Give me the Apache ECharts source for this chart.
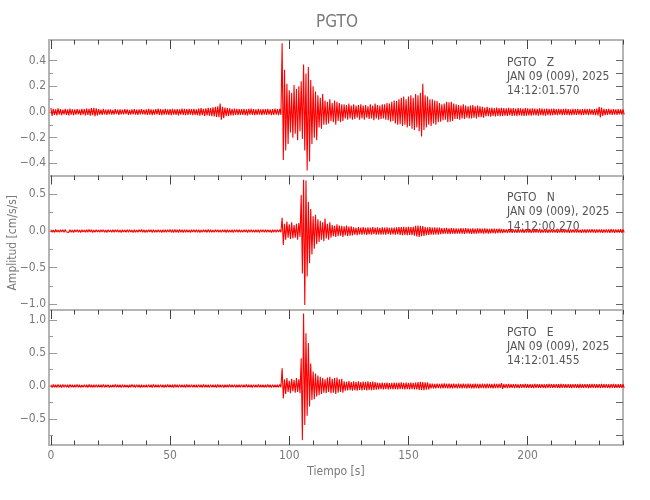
<!DOCTYPE html>
<html>
<head>
<meta charset="utf-8">
<script src="https://cdn.jsdelivr.net/npm/echarts@6/dist/echarts.min.js"></script>
<style>html,body{margin:0;padding:0;background:#fff}#c{width:650px;height:500px}</style>
</head>
<body>
<div id="c"></div>
<script>
// ---------- DATA ----------
const stationTitle = 'PGTO';
const xTitle = 'Tiempo [s]';
const yTitle = 'Amplitud [cm/s/s]';
const timeStart = 0;     // s
const timeStep = 1;      // s between envelope readings
const xLabelValues = [0, 50, 100, 150, 200];
const xMinorValues = [10,20,30,40,60,70,80,90,110,120,130,140,160,170,180,190,210,220,230,240];

const labelsZ = ['PGTO   Z', 'JAN 09 (009), 2025', '14:12:01.570'];
const labelsN = ['PGTO   N', 'JAN 09 (009), 2025', '14:12:00.270'];
const labelsE = ['PGTO   E', 'JAN 09 (009), 2025', '14:12:01.455'];

const yMajorZ = [-0.4, -0.2, 0.0, 0.2, 0.4];
const yMinorZ = [-0.3, -0.1, 0.1, 0.3];
const yMajorN = [-1.0, -0.5, 0.0, 0.5];
const yMinorN = [-0.75, -0.25, 0.25];
const yMajorE = [-0.5, 0.0, 0.5, 1.0];
const yMinorE = [-0.75, -0.25, 0.25, 0.75];

const yRangeZ = [-0.495, 0.561];
const yRangeN = [-1.077, 0.757];
const yRangeE = [-0.894, 1.152];

// Z component: positive / negative peaks per second
const zUp = [
0.030,0.025,0.020,0.028,0.022,0.018,0.024,0.020,0.026,0.021,
0.020,0.023,0.019,0.025,0.022,0.027,0.024,0.030,0.033,0.028,
0.022,0.019,0.024,0.018,0.021,0.020,0.017,0.022,0.019,0.021,
0.018,0.022,0.020,0.017,0.021,0.023,0.019,0.020,0.022,0.018,
0.020,0.024,0.021,0.019,0.023,0.026,0.022,0.020,0.024,0.021,
0.022,0.025,0.020,0.023,0.021,0.026,0.024,0.022,0.025,0.023,
0.024,0.021,0.026,0.030,0.025,0.028,0.032,0.030,0.036,0.040,
0.045,0.065,0.040,0.035,0.030,0.028,0.025,0.027,0.024,0.022,
0.023,0.025,0.021,0.024,0.026,0.022,0.020,0.024,0.021,0.023,
0.022,0.025,0.020,0.023,0.026,0.022,0.024,0.535,0.330,0.220,
0.170,0.150,0.210,0.180,0.200,0.240,0.370,0.300,0.350,0.250,
0.200,0.160,0.130,0.110,0.140,0.090,0.080,0.100,0.070,0.090,
0.080,0.070,0.060,0.060,0.055,0.065,0.050,0.060,0.050,0.055,
0.060,0.050,0.055,0.045,0.060,0.050,0.065,0.055,0.050,0.060,
0.060,0.070,0.065,0.080,0.090,0.085,0.100,0.110,0.120,0.100,
0.120,0.130,0.110,0.140,0.130,0.150,0.220,0.130,0.120,0.100,
0.100,0.090,0.085,0.070,0.060,0.065,0.080,0.075,0.080,0.065,
0.060,0.055,0.050,0.060,0.050,0.045,0.050,0.055,0.045,0.050,
0.045,0.040,0.035,0.040,0.032,0.035,0.030,0.034,0.030,0.032,
0.030,0.028,0.032,0.029,0.031,0.027,0.030,0.028,0.026,0.030,
0.028,0.026,0.029,0.027,0.025,0.028,0.026,0.024,0.027,0.025,
0.024,0.026,0.023,0.025,0.022,0.024,0.026,0.023,0.021,0.024,
0.022,0.024,0.021,0.023,0.025,0.022,0.024,0.021,0.023,0.026,
0.040,0.035,0.025,0.022,0.024,0.021,0.023,0.020,0.022,0.021,0.020];
const zDn = [
-0.030,-0.022,-0.026,-0.020,-0.025,-0.019,-0.023,-0.027,-0.020,-0.024,
-0.021,-0.018,-0.024,-0.020,-0.026,-0.022,-0.028,-0.025,-0.032,-0.027,
-0.020,-0.023,-0.018,-0.022,-0.019,-0.021,-0.020,-0.017,-0.022,-0.019,
-0.019,-0.017,-0.022,-0.020,-0.018,-0.021,-0.023,-0.019,-0.018,-0.021,
-0.022,-0.020,-0.024,-0.021,-0.019,-0.023,-0.025,-0.021,-0.020,-0.023,
-0.024,-0.021,-0.023,-0.026,-0.020,-0.022,-0.025,-0.023,-0.021,-0.024,
-0.022,-0.025,-0.028,-0.024,-0.030,-0.027,-0.029,-0.033,-0.035,-0.038,
-0.040,-0.060,-0.048,-0.032,-0.030,-0.026,-0.027,-0.023,-0.025,-0.022,
-0.022,-0.024,-0.026,-0.021,-0.023,-0.025,-0.022,-0.020,-0.024,-0.021,
-0.023,-0.021,-0.025,-0.022,-0.020,-0.024,-0.022,-0.374,-0.300,-0.250,
-0.160,-0.200,-0.170,-0.220,-0.150,-0.210,-0.300,-0.456,-0.385,-0.250,
-0.200,-0.220,-0.120,-0.130,-0.100,-0.100,-0.090,-0.070,-0.080,-0.100,
-0.070,-0.080,-0.070,-0.050,-0.060,-0.050,-0.060,-0.055,-0.045,-0.060,
-0.050,-0.060,-0.045,-0.055,-0.050,-0.065,-0.050,-0.060,-0.055,-0.050,
-0.060,-0.065,-0.075,-0.070,-0.090,-0.100,-0.095,-0.110,-0.100,-0.120,
-0.110,-0.130,-0.140,-0.120,-0.150,-0.190,-0.140,-0.120,-0.100,-0.110,
-0.090,-0.100,-0.080,-0.075,-0.065,-0.060,-0.080,-0.075,-0.070,-0.055,
-0.055,-0.060,-0.050,-0.055,-0.045,-0.050,-0.050,-0.045,-0.050,-0.040,
-0.040,-0.045,-0.035,-0.032,-0.036,-0.030,-0.034,-0.030,-0.033,-0.030,
-0.029,-0.031,-0.027,-0.030,-0.028,-0.030,-0.027,-0.029,-0.031,-0.028,
-0.027,-0.029,-0.025,-0.027,-0.028,-0.025,-0.026,-0.028,-0.024,-0.026,
-0.025,-0.022,-0.024,-0.021,-0.025,-0.023,-0.022,-0.024,-0.025,-0.022,
-0.023,-0.021,-0.024,-0.022,-0.020,-0.024,-0.021,-0.023,-0.025,-0.027,
-0.042,-0.030,-0.024,-0.022,-0.020,-0.023,-0.021,-0.022,-0.019,-0.021,-0.020];

// N component
const nUp = [
0.018,0.015,0.020,0.014,0.017,0.016,0.019,0.013,0.018,0.015,
0.016,0.019,0.014,0.017,0.015,0.018,0.020,0.016,0.014,0.017,
0.015,0.018,0.016,0.014,0.019,0.015,0.017,0.016,0.018,0.014,
0.017,0.015,0.019,0.016,0.014,0.018,0.015,0.017,0.020,0.016,
0.015,0.018,0.016,0.019,0.014,0.017,0.015,0.018,0.016,0.019,
0.021,0.017,0.020,0.018,0.022,0.016,0.019,0.017,0.015,0.018,
0.016,0.019,0.017,0.015,0.018,0.016,0.020,0.017,0.015,0.018,
0.017,0.015,0.019,0.016,0.018,0.015,0.017,0.019,0.016,0.018,
0.015,0.018,0.016,0.019,0.017,0.015,0.018,0.016,0.019,0.017,
0.016,0.018,0.015,0.017,0.019,0.016,0.018,0.180,0.100,0.130,
0.090,0.120,0.080,0.100,0.110,0.490,0.700,0.690,0.400,0.300,
0.200,0.220,0.160,0.140,0.120,0.170,0.100,0.120,0.080,0.070,
0.090,0.075,0.070,0.065,0.075,0.060,0.065,0.050,0.045,0.055,
0.048,0.052,0.045,0.050,0.047,0.053,0.046,0.050,0.044,0.049,
0.046,0.050,0.044,0.048,0.045,0.050,0.055,0.052,0.058,0.054,
0.056,0.052,0.058,0.070,0.075,0.072,0.068,0.055,0.050,0.052,
0.048,0.050,0.046,0.045,0.040,0.038,0.042,0.036,0.039,0.035,
0.037,0.034,0.038,0.035,0.040,0.036,0.033,0.037,0.034,0.036,
0.035,0.032,0.036,0.033,0.030,0.034,0.031,0.029,0.032,0.028,
0.024,0.022,0.025,0.021,0.023,0.020,0.024,0.022,0.021,0.023,
0.022,0.020,0.023,0.021,0.024,0.022,0.020,0.023,0.021,0.022,
0.020,0.023,0.021,0.022,0.019,0.021,0.023,0.020,0.022,0.021,
0.023,0.021,0.019,0.022,0.020,0.023,0.021,0.024,0.022,0.020,
0.022,0.021,0.023,0.020,0.022,0.024,0.021,0.023,0.022,0.025,0.021];
const nDn = [
-0.016,-0.019,-0.014,-0.018,-0.015,-0.017,-0.013,-0.018,-0.016,-0.019,
-0.015,-0.017,-0.019,-0.014,-0.018,-0.016,-0.015,-0.019,-0.017,-0.014,
-0.018,-0.015,-0.017,-0.019,-0.014,-0.018,-0.016,-0.015,-0.017,-0.019,
-0.014,-0.018,-0.016,-0.015,-0.019,-0.016,-0.018,-0.014,-0.017,-0.019,
-0.017,-0.015,-0.019,-0.016,-0.018,-0.015,-0.019,-0.016,-0.018,-0.015,
-0.019,-0.022,-0.017,-0.021,-0.018,-0.020,-0.016,-0.018,-0.019,-0.015,
-0.018,-0.016,-0.019,-0.017,-0.015,-0.019,-0.016,-0.018,-0.017,-0.015,
-0.016,-0.018,-0.015,-0.019,-0.017,-0.016,-0.019,-0.015,-0.018,-0.016,
-0.018,-0.015,-0.019,-0.016,-0.015,-0.018,-0.016,-0.019,-0.015,-0.018,
-0.017,-0.015,-0.019,-0.016,-0.018,-0.015,-0.017,-0.190,-0.120,-0.090,
-0.110,-0.100,-0.090,-0.120,-0.080,-0.580,-1.010,-0.620,-0.440,-0.320,
-0.240,-0.180,-0.150,-0.120,-0.140,-0.100,-0.120,-0.090,-0.070,-0.080,
-0.070,-0.065,-0.080,-0.060,-0.070,-0.065,-0.060,-0.050,-0.055,-0.045,
-0.050,-0.046,-0.052,-0.045,-0.050,-0.044,-0.049,-0.046,-0.051,-0.045,
-0.048,-0.044,-0.049,-0.046,-0.050,-0.047,-0.052,-0.056,-0.053,-0.058,
-0.054,-0.057,-0.062,-0.075,-0.080,-0.070,-0.066,-0.058,-0.052,-0.050,
-0.050,-0.046,-0.048,-0.042,-0.040,-0.036,-0.039,-0.041,-0.035,-0.038,
-0.034,-0.037,-0.035,-0.038,-0.033,-0.036,-0.039,-0.034,-0.036,-0.033,
-0.033,-0.035,-0.031,-0.034,-0.032,-0.029,-0.033,-0.030,-0.028,-0.030,
-0.022,-0.024,-0.021,-0.023,-0.020,-0.024,-0.022,-0.021,-0.023,-0.020,
-0.021,-0.023,-0.020,-0.022,-0.021,-0.024,-0.022,-0.020,-0.023,-0.021,
-0.022,-0.020,-0.023,-0.021,-0.022,-0.020,-0.021,-0.023,-0.020,-0.022,
-0.020,-0.022,-0.024,-0.021,-0.023,-0.020,-0.022,-0.021,-0.023,-0.022,
-0.021,-0.023,-0.020,-0.022,-0.024,-0.021,-0.023,-0.020,-0.022,-0.024,-0.021];

// E component
const eUp = [
0.020,0.024,0.018,0.022,0.019,0.023,0.021,0.018,0.022,0.020,
0.019,0.022,0.020,0.017,0.021,0.019,0.023,0.020,0.018,0.021,
0.020,0.018,0.022,0.019,0.021,0.017,0.020,0.022,0.019,0.018,
0.021,0.019,0.017,0.020,0.022,0.018,0.021,0.019,0.020,0.017,
0.019,0.021,0.018,0.022,0.020,0.019,0.021,0.018,0.020,0.022,
0.018,0.020,0.022,0.019,0.021,0.018,0.020,0.023,0.019,0.021,
0.020,0.018,0.021,0.019,0.022,0.020,0.018,0.021,0.019,0.020,
0.022,0.019,0.021,0.018,0.020,0.022,0.019,0.021,0.018,0.020,
0.021,0.019,0.022,0.020,0.018,0.021,0.019,0.022,0.020,0.018,
0.020,0.022,0.019,0.021,0.018,0.020,0.022,0.270,0.100,0.120,
0.080,0.110,0.090,0.120,0.100,0.420,1.100,0.800,0.650,0.340,
0.220,0.190,0.160,0.140,0.120,0.100,0.130,0.140,0.110,0.120,
0.130,0.100,0.110,0.070,0.065,0.075,0.060,0.070,0.065,0.072,
0.060,0.068,0.062,0.070,0.058,0.066,0.060,0.050,0.048,0.052,
0.046,0.050,0.045,0.049,0.052,0.047,0.050,0.054,0.048,0.052,
0.049,0.053,0.047,0.050,0.058,0.062,0.060,0.057,0.055,0.038,
0.036,0.034,0.037,0.033,0.035,0.038,0.034,0.036,0.033,0.035,
0.034,0.037,0.033,0.035,0.032,0.036,0.034,0.031,0.035,0.033,
0.032,0.034,0.031,0.035,0.033,0.030,0.034,0.032,0.031,0.045,
0.030,0.028,0.031,0.027,0.029,0.030,0.026,0.029,0.028,0.030,
0.027,0.029,0.026,0.030,0.028,0.027,0.029,0.026,0.028,0.030,
0.028,0.026,0.029,0.027,0.030,0.028,0.026,0.029,0.027,0.028,
0.029,0.027,0.030,0.026,0.028,0.029,0.027,0.030,0.028,0.026,
0.028,0.030,0.027,0.029,0.026,0.028,0.030,0.027,0.029,0.028,0.027];
const eDn = [
-0.022,-0.018,-0.021,-0.019,-0.023,-0.018,-0.020,-0.022,-0.019,-0.021,
-0.020,-0.018,-0.021,-0.019,-0.017,-0.022,-0.019,-0.021,-0.020,-0.018,
-0.019,-0.021,-0.018,-0.020,-0.022,-0.019,-0.021,-0.018,-0.020,-0.022,
-0.018,-0.020,-0.022,-0.019,-0.017,-0.021,-0.019,-0.022,-0.018,-0.020,
-0.021,-0.019,-0.022,-0.018,-0.020,-0.021,-0.019,-0.022,-0.020,-0.018,
-0.020,-0.022,-0.019,-0.021,-0.018,-0.020,-0.022,-0.019,-0.021,-0.020,
-0.019,-0.021,-0.018,-0.022,-0.020,-0.019,-0.021,-0.018,-0.020,-0.022,
-0.020,-0.018,-0.022,-0.019,-0.021,-0.020,-0.018,-0.021,-0.019,-0.020,
-0.019,-0.021,-0.018,-0.020,-0.022,-0.019,-0.021,-0.018,-0.020,-0.021,
-0.021,-0.019,-0.022,-0.018,-0.020,-0.021,-0.019,-0.190,-0.120,-0.090,
-0.110,-0.080,-0.100,-0.090,-0.110,-0.820,-0.590,-0.450,-0.310,-0.210,
-0.200,-0.160,-0.140,-0.120,-0.100,-0.110,-0.090,-0.110,-0.100,-0.120,
-0.100,-0.090,-0.100,-0.070,-0.068,-0.062,-0.072,-0.065,-0.070,-0.060,
-0.066,-0.060,-0.068,-0.058,-0.064,-0.060,-0.056,-0.050,-0.047,-0.051,
-0.048,-0.052,-0.046,-0.050,-0.047,-0.051,-0.049,-0.046,-0.052,-0.048,
-0.051,-0.047,-0.050,-0.053,-0.060,-0.058,-0.062,-0.055,-0.052,-0.036,
-0.035,-0.037,-0.033,-0.036,-0.034,-0.032,-0.036,-0.034,-0.037,-0.033,
-0.035,-0.032,-0.036,-0.033,-0.035,-0.031,-0.034,-0.036,-0.032,-0.034,
-0.033,-0.031,-0.034,-0.032,-0.030,-0.034,-0.031,-0.033,-0.030,-0.043,
-0.028,-0.030,-0.027,-0.029,-0.031,-0.028,-0.030,-0.027,-0.029,-0.028,
-0.029,-0.027,-0.030,-0.028,-0.026,-0.029,-0.027,-0.030,-0.028,-0.027,
-0.027,-0.029,-0.026,-0.030,-0.028,-0.027,-0.029,-0.028,-0.030,-0.026,
-0.028,-0.030,-0.027,-0.029,-0.027,-0.030,-0.028,-0.026,-0.029,-0.028,
-0.030,-0.027,-0.029,-0.028,-0.030,-0.027,-0.029,-0.028,-0.026,-0.029,-0.028];

// ---------- BUILD ----------
const FONT = "'DejaVu Sans Condensed', sans-serif";
const axisGrey = '#b4b4b4';
const textGrey = '#7a7a7a';
const X_MIN = -0.8, X_MAX = 240;

function buildTrace(up, dn) {
  const d = [];
  for (let i = 0; i < up.length; i++) {
    d.push([timeStart + i * timeStep, up[i]]);
    d.push([timeStart + (i + 0.5) * timeStep, dn[i]]);
  }
  return d;
}

const panels = [
  { up: zUp, dn: zDn, range: yRangeZ, major: yMajorZ, minor: yMinorZ, labels: labelsZ, top: 40, height: 135.5 },
  { up: nUp, dn: nDn, range: yRangeN, major: yMajorN, minor: yMinorN, labels: labelsN, top: 175.5, height: 134.5 },
  { up: eUp, dn: eDn, range: yRangeE, major: yMajorE, minor: yMinorE, labels: labelsE, top: 310, height: 135 }
];

const grid = [], xAxis = [], yAxis = [], series = [], graphic = [];
panels.forEach((p, g) => {
  grid.push({ left: 49, top: p.top, width: 574, height: p.height, containLabel: false, outerBoundsMode: 'none' });
  const last = g === panels.length - 1;
  const xBase = { type: 'value', gridIndex: g, min: X_MIN, max: X_MAX, splitLine: { show: false } };
  // bottom axis (data axis)
  xAxis.push(Object.assign({}, xBase, {
    position: 'bottom',
    axisLine: { show: true, onZero: false, lineStyle: { color: axisGrey, width: 2 } },
    axisTick: { show: last, inside: true, length: 9, customValues: xLabelValues, lineStyle: { color: '#444', width: 1 } },
    axisLabel: { show: last, customValues: xLabelValues, color: textGrey, fontSize: 12, fontFamily: FONT, margin: 5 },
    name: last ? xTitle : '', nameLocation: 'middle', nameGap: 21, nameMoveOverlap: false,
    nameTextStyle: { color: textGrey, fontSize: 12, fontFamily: FONT }
  }));
  const xBottomIdx = xAxis.length - 1;
  if (last) {
    xAxis.push(Object.assign({}, xBase, {
      position: 'bottom',
      axisLine: { show: false, onZero: false },
      axisTick: { show: true, inside: true, length: 4.5, customValues: xMinorValues, lineStyle: { color: '#444', width: 1 } },
      axisLabel: { show: false }
    }));
  }
  // top axis with ticks
  xAxis.push(Object.assign({}, xBase, {
    position: 'top',
    axisLine: { show: true, onZero: false, lineStyle: { color: axisGrey, width: 2 } },
    axisTick: { show: true, inside: true, length: 9, customValues: xLabelValues, lineStyle: { color: '#444', width: 1 } },
    axisLabel: { show: false }
  }));
  xAxis.push(Object.assign({}, xBase, {
    position: 'top',
    axisLine: { show: false, onZero: false },
    axisTick: { show: true, inside: true, length: 4.5, customValues: xMinorValues, lineStyle: { color: '#444', width: 1 } },
    axisLabel: { show: false }
  }));

  const yBase = { type: 'value', gridIndex: g, min: p.range[0], max: p.range[1], splitLine: { show: false } };
  yAxis.push(Object.assign({}, yBase, {
    position: 'left',
    axisLine: { show: true, onZero: false, lineStyle: { color: axisGrey, width: 2 } },
    axisTick: { show: true, inside: true, length: 8, customValues: p.major, lineStyle: { color: '#999', width: 1 } },
    axisLabel: { show: true, customValues: p.major, color: textGrey, fontSize: 12, fontFamily: FONT, margin: 3,
      formatter: v => v.toFixed(1).replace('-', '\u2212') },
    name: g === 1 ? yTitle : '', nameLocation: 'middle', nameGap: 30, nameMoveOverlap: false,
    nameTextStyle: { color: textGrey, fontSize: 12, fontFamily: FONT }
  }));
  const yLeftIdx = yAxis.length - 1;
  yAxis.push(Object.assign({}, yBase, {
    position: 'left',
    axisLine: { show: false, onZero: false },
    axisTick: { show: true, inside: true, length: 4, customValues: p.minor, lineStyle: { color: '#999', width: 1 } },
    axisLabel: { show: false }
  }));
  yAxis.push(Object.assign({}, yBase, {
    position: 'right',
    axisLine: { show: true, onZero: false, lineStyle: { color: axisGrey, width: 2 } },
    axisTick: { show: true, inside: true, length: 7, customValues: p.major.concat(p.minor), lineStyle: { color: '#666', width: 1 } },
    axisLabel: { show: false }
  }));

  series.push({
    type: 'line', xAxisIndex: xBottomIdx, yAxisIndex: yLeftIdx,
    data: buildTrace(p.up, p.dn), showSymbol: false, symbol: 'none',
    lineStyle: { color: '#ff0000', width: 1.1 }, clip: true, silent: true
  });

  p.labels.forEach((txt, k) => {
    graphic.push({
      type: 'text', left: 507, top: p.top + 16.5 + k * 14.3,
      style: { text: txt, fill: '#555', font: '12px ' + FONT }
    });
  });
});

const chart = echarts.init(document.getElementById('c'), null, { renderer: 'canvas' });
chart.setOption({
  animation: false,
  backgroundColor: '#fff',
  title: { text: stationTitle, left: 337, top: 14, textAlign: 'center', padding: 0,
    textStyle: { color: textGrey, fontSize: 17, fontWeight: 'normal', fontFamily: FONT } },
  grid, xAxis, yAxis, series, graphic
});
</script>
</body>
</html>
